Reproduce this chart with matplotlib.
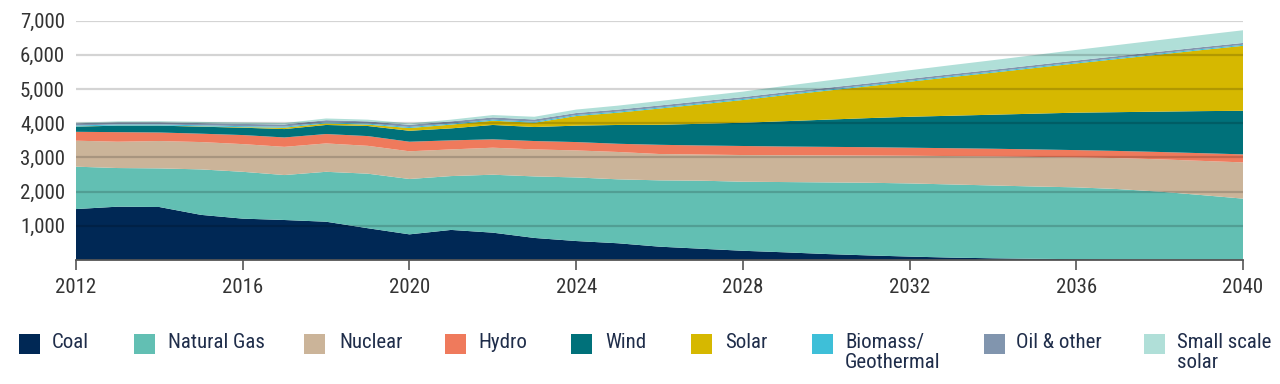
import matplotlib
matplotlib.use("Agg")
import matplotlib.pyplot as plt
from matplotlib.patches import Rectangle
from matplotlib import font_manager
import numpy as np

years = list(range(2012, 2041))

coal = [1490, 1560, 1550, 1320, 1210, 1170, 1120, 930, 750, 880, 800, 645, 555, 490,
        390, 330, 270, 225, 175, 135, 100, 70, 50, 35, 25, 15, 8, 0, 0]
gas_top = [2730, 2690, 2680, 2650, 2580, 2485, 2580, 2525, 2370, 2455, 2495, 2445, 2415, 2360,
           2330, 2320, 2290, 2280, 2270, 2260, 2240, 2210, 2180, 2150, 2125, 2075, 2000, 1900, 1795]
nuclear_top = [3490, 3460, 3480, 3450, 3390, 3310, 3410, 3340, 3180, 3235, 3285, 3235, 3205, 3160,
               3100, 3085, 3070, 3065, 3060, 3055, 3050, 3040, 3030, 3015, 3000, 2980, 2945, 2900, 2855]
hydro_top = [3750, 3740, 3730, 3695, 3655, 3585, 3685, 3625, 3460, 3500, 3530, 3480, 3450, 3400,
             3370, 3350, 3335, 3320, 3310, 3300, 3285, 3270, 3255, 3235, 3215, 3190, 3160, 3125, 3090]
wind_top = [3900, 3930, 3930, 3900, 3870, 3830, 3950, 3920, 3780, 3850, 3950, 3890, 3930, 3950,
            3955, 3985, 4015, 4060, 4105, 4150, 4190, 4220, 4250, 4280, 4310, 4325, 4340, 4355, 4365]
solar_top = [3905, 3935, 3935, 3910, 3885, 3870, 3995, 3960, 3860, 3960, 4075, 4015, 4210, 4310,
             4430, 4555, 4680, 4820, 4950, 5080, 5215, 5350, 5480, 5615, 5750, 5880, 6010, 6140, 6265]
biomass = [30] * 29
oil = [65] * 12 + [60] * 4 + [55] * 13
small_solar = [15, 25, 30, 35, 40, 40, 50, 50, 40, 50, 70, 80, 100, 115,
               130, 145, 160, 185, 210, 230, 250, 265, 280, 295, 310, 325, 340, 355, 370]

labels = ["Coal", "Natural Gas", "Nuclear", "Hydro", "Wind", "Solar",
          "Biomass/\nGeothermal", "Oil & other", "Small scale\nsolar"]
colors = ["#002855", "#62bfb3", "#cbb499", "#ef7a5c", "#00717a", "#d6b800",
          "#3ebfd8", "#8195ae", "#b0dfd8"]
ytick_vals = [1000, 2000, 3000, 4000, 5000, 6000, 7000]

coal_a = np.array(coal)
gas = np.array(gas_top) - coal_a
nuclear = np.array(nuclear_top) - np.array(gas_top)
hydro = np.array(hydro_top) - np.array(nuclear_top)
wind = np.array(wind_top) - np.array(hydro_top)
solar = np.array(solar_top) - np.array(wind_top)
series = [coal_a, gas, nuclear, hydro, wind, solar,
          np.array(biomass), np.array(oil), np.array(small_solar)]

# look for a condensed sans font
cond_path = None
cands = []
for f in font_manager.fontManager.ttflist:
    nm = (f.name + " " + f.fname).lower()
    if ("condensed" in nm or "narrow" in nm or f.stretch in ("condensed", "semi-condensed", 600 - 100)) \
            and "bold" not in f.fname.lower() and "italic" not in f.fname.lower() \
            and "oblique" not in f.fname.lower() and f.weight in (400, "normal", "regular"):
        cands.append(f)
pref = ["roboto", "liberation", "open", "noto", "dejavu"]
cands.sort(key=lambda f: min([i for i, p in enumerate(pref) if p in f.name.lower()] + [99]))
if cands:
    cond_path = cands[0].fname

if cond_path:
    fp = font_manager.FontProperties(fname=cond_path)
    fsize = 15
else:
    fp = font_manager.FontProperties(family=['Roboto', 'DejaVu Sans'], stretch='condensed')
    fsize = 13

fig = plt.figure(figsize=(12.8, 3.84), dpi=100)
ax = fig.add_axes([76 / 1280, 1 - 260 / 384, (1243 - 76) / 1280, (260 - 20.7) / 384])

ax.stackplot(years, *series, colors=colors, linewidth=0, zorder=1)

ax.set_xlim(2012, 2040)
ax.set_ylim(0, 7000)
ax.set_yticks(ytick_vals)
ax.set_yticklabels([f"{v:,}" for v in ytick_vals])
ax.set_xticks(list(range(2012, 2041, 4)))
ax.tick_params(axis='y', length=0, pad=8, labelcolor='#333333')
ax.tick_params(axis='x', length=7, width=1.2, color='#555555', pad=6, labelcolor='#333333')
for lab in ax.get_xticklabels() + ax.get_yticklabels():
    lab.set_fontproperties(fp)
    lab.set_fontsize(fsize)
for v in ytick_vals:
    ax.axhline(v, color='black', alpha=0.17, lw=1.6, zorder=3)
for s in ['top', 'right', 'left']:
    ax.spines[s].set_visible(False)
ax.spines['bottom'].set_color('#555555')
ax.spines['bottom'].set_linewidth(1.3)
ax.spines['bottom'].set_zorder(4)

sq_x = [19, 134, 304, 445, 571, 691, 812, 984, 1144]
txt_x = [52, 168, 339, 478, 605, 725, 845, 1016, 1177]
for lab, col, sx, tx in zip(labels, colors, sq_x, txt_x):
    fig.patches.append(Rectangle((sx / 1280, 1 - 354 / 384), 21 / 1280, 20 / 384,
                                 transform=fig.transFigure, facecolor=col,
                                 edgecolor='none'))
    fig.text(tx / 1280, 1 - 333 / 384, lab, ha='left', va='top', fontproperties=fp,
             fontsize=fsize, color='#1f2d4a', linespacing=1.05)

fig.savefig("out.png", dpi=100)
